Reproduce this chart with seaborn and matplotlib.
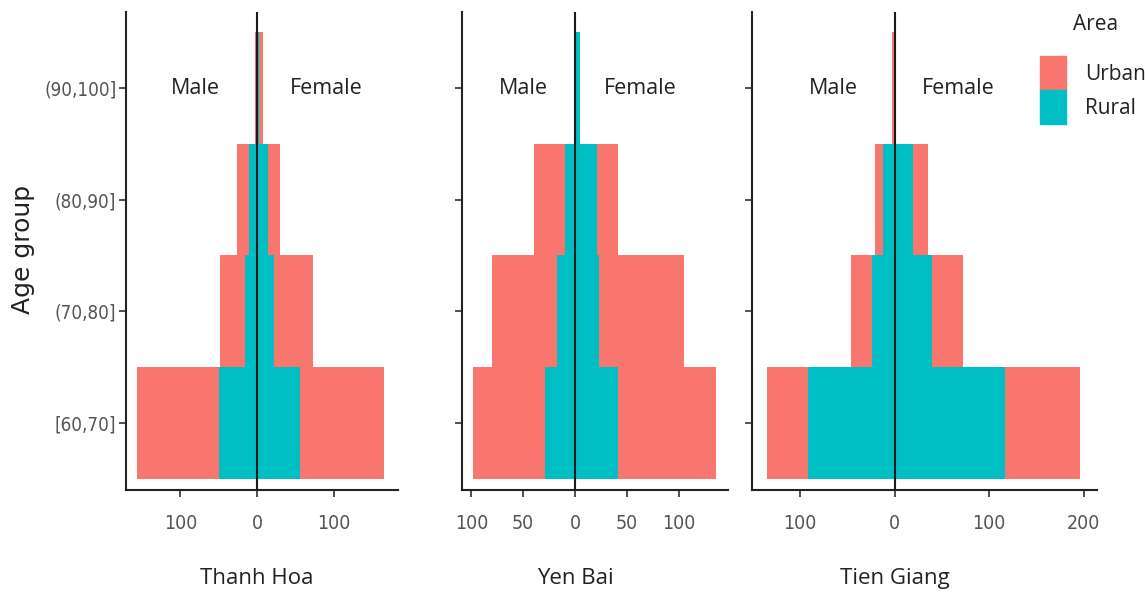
import matplotlib
matplotlib.use("Agg")
import matplotlib.pyplot as plt
import matplotlib.patches as mpatches
import seaborn as sns
import pandas as pd

sns.set_theme(style="ticks")
plt.rcParams['font.family'] = ['Open Sans', 'DejaVu Sans']

age_groups = ["(90,100]", "(80,90]", "(70,80]", "[60,70]"]
provinces = ["Thanh Hoa", "Yen Bai", "Tien Giang"]

# values per age group (order as age_groups)
urban_male = {
    "Thanh Hoa": [2.5, 26, 48, 156],
    "Yen Bai": [0, 40, 80, 98],
    "Tien Giang": [3, 21, 46, 135],
}
urban_female = {
    "Thanh Hoa": [8, 30, 73, 166],
    "Yen Bai": [0, 41, 105, 135],
    "Tien Giang": [0, 35, 72, 196],
}
rural_male = {
    "Thanh Hoa": [1, 10, 16, 50],
    "Yen Bai": [0.5, 10, 18, 29],
    "Tien Giang": [1, 12, 24, 92],
}
rural_female = {
    "Thanh Hoa": [2, 14, 22, 56],
    "Yen Bai": [5, 21, 23, 41],
    "Tien Giang": [0.5, 19, 39, 117],
}

x_limits = {"Thanh Hoa": (-171, 184), "Yen Bai": (-109, 147), "Tien Giang": (-151, 214)}
x_ticks = {"Thanh Hoa": [-100, 0, 100], "Yen Bai": [-100, -50, 0, 50, 100],
           "Tien Giang": [-100, 0, 100, 200]}

palette = {"Urban": "#F8766D", "Rural": "#00BFC4"}

W, H = 1145, 592
fig = plt.figure(figsize=(W / 100, H / 100), dpi=100)
axes_px = {"Thanh Hoa": (126, 398), "Yen Bai": (462, 728), "Tien Giang": (752, 1097)}
male_px = {"Thanh Hoa": 195, "Yen Bai": 523, "Tien Giang": 833}
female_px = {"Thanh Hoa": 326, "Yen Bai": 640, "Tien Giang": 958}
top_px, bottom_px = 12, 490

tick_font = ['DejaVu Sans']

for i, prov in enumerate(provinces):
    x0, x1 = axes_px[prov]
    ax = fig.add_axes([x0 / W, 1 - bottom_px / H, (x1 - x0) / W, (bottom_px - top_px) / H])
    male = pd.DataFrame({
        "age": age_groups * 2,
        "value": [-v for v in urban_male[prov]] + [-v for v in rural_male[prov]],
        "Area": ["Urban"] * 4 + ["Rural"] * 4,
    })
    female = pd.DataFrame({
        "age": age_groups * 2,
        "value": urban_female[prov] + rural_female[prov],
        "Area": ["Urban"] * 4 + ["Rural"] * 4,
    })
    for df in (male, female):
        sns.barplot(data=df, x="value", y="age", hue="Area", order=age_groups,
                    hue_order=["Urban", "Rural"], palette=palette, dodge=False,
                    width=1.0, orient="h", ax=ax, legend=False, linewidth=0,
                    saturation=1, errorbar=None)
    ax.axvline(0, color="#1a1a1a", lw=1.5, zorder=5)
    ax.set_xlim(*x_limits[prov])
    ax.set_ylim(3.6, -0.68)
    ax.set_xticks(x_ticks[prov])
    ax.set_xticklabels([str(abs(t)) for t in x_ticks[prov]], family=tick_font,
                       fontsize=14, color="#555555", fontstretch="condensed")
    ax.set_ylabel("")
    ax.set_xlabel("")
    ax.set_yticks(range(4))
    if i == 0:
        ax.set_yticklabels(age_groups, family=tick_font, fontsize=13.5, color="#555555",
                           fontstretch="condensed")
    else:
        ax.set_yticklabels([])
    ax.tick_params(axis="y", length=5, width=1.2, color="#333333", pad=2)
    ax.tick_params(axis="x", length=5, width=1.2, color="#333333", pad=12)
    for s in ["top", "right"]:
        ax.spines[s].set_visible(False)
    for s in ["left", "bottom"]:
        ax.spines[s].set_linewidth(1.5)
        ax.spines[s].set_color("#222222")
    ymid = 1 - (88 - top_px) / (bottom_px - top_px)
    ax.text((male_px[prov] - x0) / (x1 - x0), ymid, "Male",
            transform=ax.transAxes, ha="center", va="center", fontsize=15.5, color="#222222")
    ax.text((female_px[prov] - x0) / (x1 - x0), ymid, "Female",
            transform=ax.transAxes, ha="center", va="center", fontsize=15.5, color="#222222")
    # province name below the axis, centred under zero
    zero_frac = (0 - x_limits[prov][0]) / (x_limits[prov][1] - x_limits[prov][0])
    fig.text((x0 + zero_frac * (x1 - x0)) / W, 1 - 568 / H, prov, ha="center", va="top",
             fontsize=16, color="#222222")

fig.text(23 / W, 1 - 249 / H, "Age group", rotation=90, ha="center", va="center",
         fontsize=18, color="#222222", family=['DejaVu Sans'])

handles = [mpatches.Patch(color=palette["Urban"], label="Urban"),
           mpatches.Patch(color=palette["Rural"], label="Rural")]
fig.text(1073 / W, 1 - 25 / H, "Area", ha="left", va="center", fontsize=15, color="#222222")
leg = fig.legend(handles=handles, loc="upper left",
                 bbox_to_anchor=(1040 / W, 1 - 56 / H), frameon=False,
                 fontsize=15, handlelength=1.25, handleheight=2.15,
                 handletextpad=0.9, labelspacing=0.0, borderaxespad=0, borderpad=0)
for t in leg.get_texts():
    t.set_color("#222222")

fig.savefig("out.png", dpi=100)
